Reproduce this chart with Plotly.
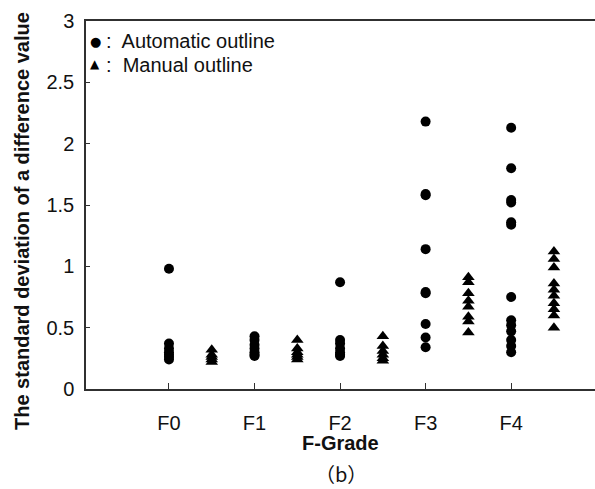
import plotly.graph_objects as go

grades = ["F0", "F1", "F2", "F3", "F4"]
grade_pos = [1, 2, 3, 4, 5]

auto_vals = {
    "F0": [0.98, 0.37, 0.33, 0.30, 0.28, 0.26, 0.24],
    "F1": [0.43, 0.40, 0.36, 0.33, 0.30, 0.28, 0.27],
    "F2": [0.87, 0.40, 0.37, 0.33, 0.30, 0.28, 0.27],
    "F3": [2.18, 1.59, 1.58, 1.14, 0.79, 0.78, 0.53, 0.42, 0.34],
    "F4": [2.13, 1.80, 1.54, 1.52, 1.36, 1.34, 0.75, 0.56, 0.52, 0.47, 0.40, 0.35, 0.30],
}
manual_vals = {
    "F0": [0.32, 0.28, 0.26, 0.24, 0.22],
    "F1": [0.40, 0.33, 0.30, 0.28, 0.26, 0.24],
    "F2": [0.43, 0.35, 0.31, 0.28, 0.25, 0.23],
    "F3": [0.91, 0.87, 0.78, 0.72, 0.67, 0.59, 0.55, 0.46],
    "F4": [1.12, 1.06, 0.99, 0.86, 0.81, 0.76, 0.70, 0.65, 0.60, 0.50],
}
manual_offset = 0.5

yticks = [0, 0.5, 1, 1.5, 2, 2.5, 3]

ax, ay, mx, my = [], [], [], []
for g, p in zip(grades, grade_pos):
    for v in auto_vals[g]:
        ax.append(p); ay.append(v)
    for v in manual_vals[g]:
        mx.append(p + manual_offset); my.append(v)

fig = go.Figure()
fig.add_trace(go.Scatter(x=ax, y=ay, mode="markers", name="Automatic outline",
                         marker=dict(symbol="circle", size=10, color="black")))
fig.add_trace(go.Scatter(x=mx, y=my, mode="markers", name="Manual outline",
                         marker=dict(symbol="triangle-up", size=11, color="black")))

FONT = "Liberation Sans, Arial, sans-serif"
axis_col = "#303030"
TXT = "#111"

# plot area: left 86px, width 509px; top 21px, height 368px
def px_x(p):
    return (p - 86) / 509.0

def px_y(p):
    return (389 - p) / 368.0

annotations = [
    dict(text="<b>The standard deviation of a difference value</b>", textangle=-90,
         xref="paper", yref="paper", x=px_x(22), y=px_y(221),
         xanchor="center", yanchor="middle", showarrow=False,
         font=dict(size=20, family=FONT, color=TXT)),
    dict(text="<b>F-Grade</b>", xref="paper", yref="paper", x=px_x(340), y=px_y(443),
         xanchor="center", yanchor="middle", showarrow=False,
         font=dict(size=20, family=FONT, color=TXT)),
    dict(text="（b）", xref="paper", yref="paper", x=px_x(341), y=px_y(489),
         xanchor="center", yanchor="bottom", showarrow=False, borderpad=0,
         font=dict(size=20, family="Noto Sans CJK JP, sans-serif", color=TXT)),
    # legend-style labels
    dict(text="●", xref="paper", yref="paper", x=px_x(95), y=px_y(42),
         xanchor="center", yanchor="middle", showarrow=False,
         font=dict(size=13, family="DejaVu Sans", color="black")),
    dict(text="▲", xref="paper", yref="paper", x=px_x(95), y=px_y(64),
         xanchor="center", yanchor="middle", showarrow=False,
         font=dict(size=12, family="DejaVu Sans", color="black")),
    dict(text=":  " + "Automatic outline", xref="paper", yref="paper", x=px_x(104), y=px_y(41),
         xanchor="left", yanchor="middle", showarrow=False,
         font=dict(size=20, family=FONT, color=TXT)),
    dict(text=":  " + "Manual outline", xref="paper", yref="paper", x=px_x(104), y=px_y(65),
         xanchor="left", yanchor="middle", showarrow=False,
         font=dict(size=20, family=FONT, color=TXT)),
]

fig.update_layout(
    width=595, height=489,
    margin=dict(l=86, r=0, t=21, b=100),
    plot_bgcolor="white", paper_bgcolor="white",
    font=dict(family=FONT, size=20, color=TXT),
    showlegend=False,
    xaxis=dict(range=[0.03, 5.98], tickvals=grade_pos, ticktext=grades,
               showgrid=False, zeroline=False, showline=True, mirror=True,
               linecolor=axis_col, linewidth=1.5,
               ticks="inside", ticklen=6, tickcolor=axis_col, tickwidth=1.2,
               ticklabelstandoff=15),
    yaxis=dict(range=[0, 3], tickvals=yticks, ticktext=[f"{t:g}" for t in yticks],
               showgrid=False, zeroline=False, showline=True,
               linecolor=axis_col, linewidth=1.5,
               ticks="inside", ticklen=4, tickcolor=axis_col, tickwidth=1.2,
               ticklabelstandoff=6),
    annotations=annotations,
)

fig.write_html("out.html")
